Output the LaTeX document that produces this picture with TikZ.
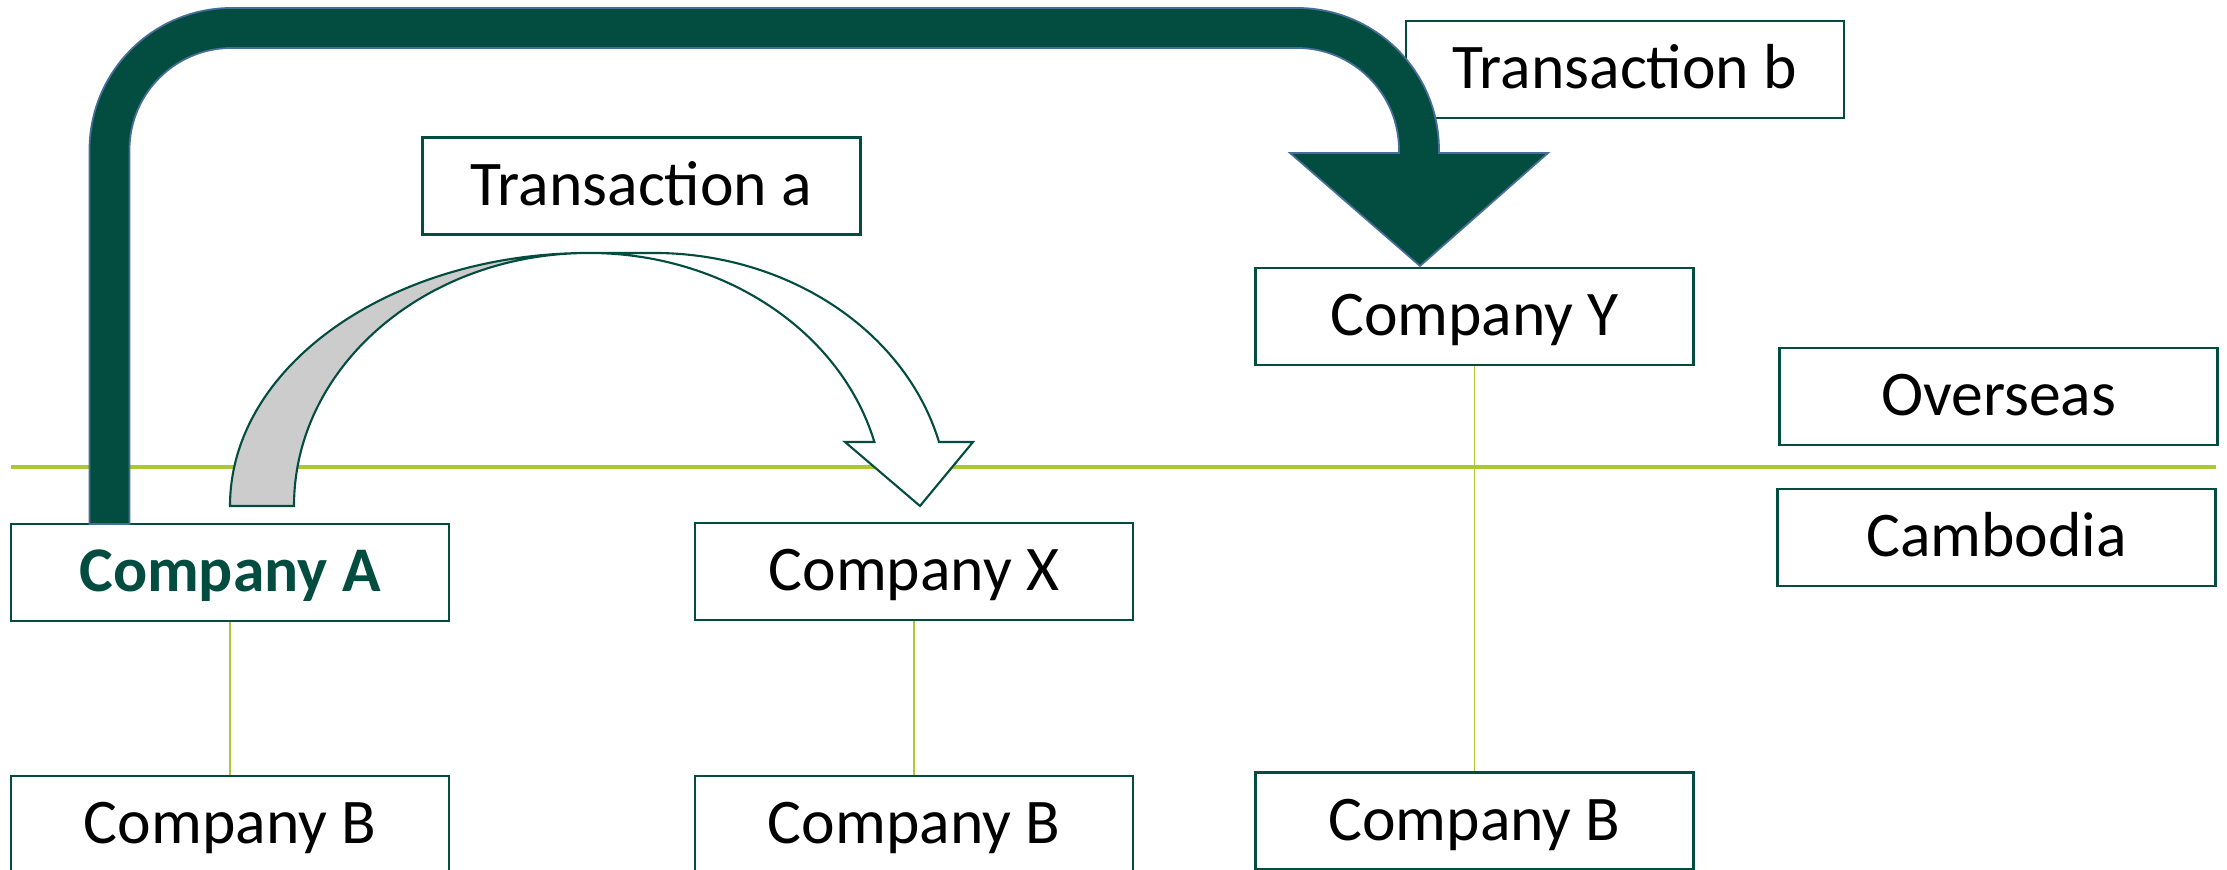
\documentclass[tikz,border=0pt]{standalone}
\usepackage{fontspec}
\setmainfont{Carlito}
\definecolor{dkgreen}{RGB}{2,77,64}
\definecolor{lgreen}{RGB}{172,200,52}
\definecolor{edgeblue}{RGB}{70,110,150}
\definecolor{tailgray}{RGB}{204,204,204}
\begin{document}
\begin{tikzpicture}[x=1cm,y=1cm,
  box/.style={draw=dkgreen, line width=0.6pt, fill=white, minimum width=4.38cm, minimum height=0.97cm, inner sep=0pt, text height=15pt, text depth=4pt, font=\fontsize{18.1}{21}\selectfont},
  link/.style={draw=lgreen, line width=0.45pt}]
\useasboundingbox (0,0) rectangle (22.27,8.70);
% divider
\coordinate (divL) at (0.11,4.03);
\coordinate (divR) at (22.16,4.03);
\draw[lgreen, line width=1.3pt] (divL) -- (divR);
% boxes
\node[box] (ca) at (2.30,2.975) {\bfseries\color{dkgreen}Company A};
\node[box] (cx) at (9.14,2.985) {Company X};
\node[box] (cy) at (14.745,5.535) {Company Y};
\node[box] (ba) at (2.30,0.455) {Company B};
\node[box] (bx) at (9.14,0.455) {Company B};
\node[box] (by) at (14.745,0.49) {Company B};
\node[box] (ta) at (6.415,6.84) {Transaction a};
\node[box] (tb) at (16.25,8.005) {Transaction b};
\node[box] (ov) at (19.985,4.735) {Overseas};
\node[box] (kh) at (19.965,3.325) {Cambodia};
% links
\draw[link] (ca.south) -- (ba.north);
\draw[link] (cx.south) -- (bx.north);
\draw[link] (cy.south) -- (by.north);
% transaction b arrow
\filldraw[fill=dkgreen, draw=edgeblue, line width=0.5pt]
  (0.895,3.46) -- (0.895,7.20) arc[start angle=180,end angle=90,radius=1.42cm]
  -- (12.97,8.62) arc[start angle=90,end angle=0,radius=1.42cm]
  -- (14.39,7.17) -- (15.48,7.17) -- (14.20,6.04) -- (12.90,7.17) -- (13.99,7.17)
  -- (13.99,7.20) arc[start angle=0,end angle=90,radius=1.02cm]
  -- (2.315,8.22) arc[start angle=90,end angle=180,radius=1.02cm]
  -- (1.295,3.46) -- cycle;
% transaction a arrow
\filldraw[fill=tailgray, draw=dkgreen, line width=0.6pt]
  (2.30,3.64) arc[start angle=180,end angle=90,x radius=3.59cm,y radius=2.53cm]
  arc[start angle=90,end angle=180,x radius=2.95cm,y radius=2.53cm] -- cycle;
\filldraw[fill=white, draw=dkgreen, line width=0.6pt]
  (5.89,6.17) arc[start angle=90,end angle=14.65,x radius=2.95cm,y radius=2.53cm]
  -- (8.45,4.28) -- (9.20,3.64) -- (9.73,4.28) -- (9.39,4.28)
  arc[start angle=14.65,end angle=90,x radius=2.95cm,y radius=2.53cm] -- cycle;
\end{tikzpicture}
\end{document}
